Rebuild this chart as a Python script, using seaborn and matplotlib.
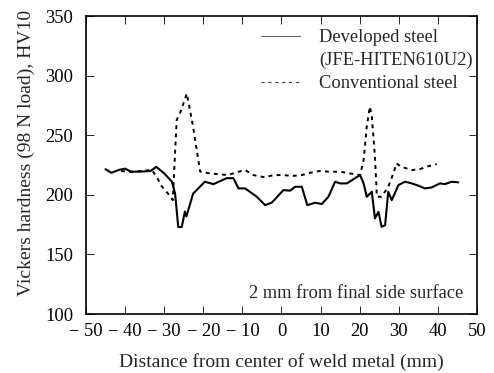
import matplotlib
matplotlib.use("Agg")
import matplotlib.pyplot as plt
from matplotlib.lines import Line2D
import seaborn as sns
import pandas as pd

# Hardness traverse, 2 mm below the final side surface
dev_x = [-45, -43.5, -41.5, -40, -38.5, -36, -33.5, -32, -30, -28, -27.2, -26.4, -25.5,
         -24.7, -24.3, -22.6, -19.6, -17.4, -14, -12.3, -11, -9.3, -6.3, -4.2, -2.5,
         0.5, 2.2, 3.5, 5.2, 6.6, 8.6, 10.3, 12, 13.7, 15, 16.7, 20.1, 21, 21.8, 23.1,
         23.9, 24.8, 25.6, 26.5, 27.3, 28.2, 29.9, 31.6, 32.9, 34.6, 36.7, 38.4, 40.5,
         41.8, 43.5, 45.2]
dev_hv = [221.5, 218.5, 221, 222, 219.5, 219.5, 220, 223.5, 218, 211, 201, 173, 173,
          186, 182, 201, 211, 209, 214, 214, 205.4, 205.4, 198.4, 191.4, 193.4,
          204, 203.5, 206.8, 206.8, 191.4, 193.4, 192.3, 198.4, 211, 209.6, 209.6, 216.6,
          209.6, 198.4, 202.6, 180.3, 185.8, 173.2, 174.6, 202.6, 195.6, 208.2, 211, 210,
          208.2, 205.4, 206.2, 209.6, 209, 211, 210.5]

conv_x = [-41, -38, -36, -33.2, -31.9, -30.6, -29, -27.8, -26.8, -26, -24.2, -22.6,
          -20.8, -18.3, -14, -12.3, -11, -9.3, -7.2, -4.2, -2.0, 0.5, 2.6, 5.2, 7.3,
          9.8, 12.4, 15, 17.5, 20.1, 21, 21.8, 22.6, 23.1, 23.9, 24.4, 25.6, 27.3,
          28.6, 29.4, 30.6, 33.3, 35.4, 37.5, 39.7]
conv_hv = [220, 219, 220, 221, 215, 207, 201, 195.6, 262.8, 268, 285, 257,
           219.5, 218, 216.7, 218, 219.4, 220.8, 216.6, 214.7, 216.6, 216.6, 215.8, 216.6, 218.5,
           220, 219.4, 219.4, 218, 216.6, 229, 257, 274, 265.5, 232, 198.4, 198.4, 206.8,
           218, 226.4, 223.6, 220.8, 221.6, 224, 225.8]

x_ticks = [-50, -40, -30, -20, -10, 0, 10, 20, 30, 40, 50]
y_ticks = [100, 150, 200, 250, 300, 350]

dev = pd.DataFrame({"x": dev_x, "hv": dev_hv})
conv = pd.DataFrame({"x": conv_x, "hv": conv_hv})

sns.set_theme(style="ticks")
plt.rcParams["font.family"] = ["Liberation Serif", "DejaVu Serif"]

FS = 13.3

fig = plt.figure(figsize=(4.94, 3.73), dpi=100)
ax = fig.add_axes([0.174, 0.158, 0.7916, 0.799])

sns.lineplot(data=dev, x="x", y="hv", ax=ax, color="black", linewidth=1.5,
             sort=False, legend=False)
sns.lineplot(data=conv, x="x", y="hv", ax=ax, color="black", linewidth=1.4,
             linestyle=(0, (2, 2.2)), sort=False, legend=False)

ax.set_xlim(-50, 50)
ax.set_ylim(100, 350)
ax.set_xticks(x_ticks)
ax.set_yticks(y_ticks)
ax.set_xticklabels([f"\u2212 {abs(t)}" if t < 0 else str(t) for t in x_ticks])
ax.tick_params(direction="in", top=True, right=True, labelsize=FS, length=5.5,
               width=0.6, colors="black")
ax.tick_params(axis="x", pad=6.5)
ax.tick_params(axis="y", pad=9)
for s in ax.spines.values():
    s.set_linewidth(1.2)
    s.set_color("black")

ax.set_xlabel("Distance from center of weld metal (mm)", fontsize=14, labelpad=9)
ax.set_ylabel("Vickers hardness (98 N load), HV10", fontsize=14)
ax.yaxis.set_label_coords(-0.130, 0.54)

# Legend: the developed steel label wraps onto a second line without its own key
handles = [
    Line2D([], [], color="#666666", linewidth=0.8),
    Line2D([], [], color="none"),
    Line2D([], [], color="#444444", linewidth=0.9, linestyle=(0, (2.5, 3))),
]
labels = ["Developed steel", "(JFE-HITEN610U2)", "Conventional steel"]
ax.legend(handles, labels, loc="upper right", bbox_to_anchor=(1.023, 1.0),
          frameon=False, fontsize=FS, handlelength=2.1, handletextpad=1.05,
          labelspacing=0.32, borderaxespad=0.5, borderpad=0.2)

ax.text(0.965, 0.07, "2 mm from final side surface", transform=ax.transAxes,
        ha="right", va="center", fontsize=FS)

fig.savefig("out.png", dpi=100)
